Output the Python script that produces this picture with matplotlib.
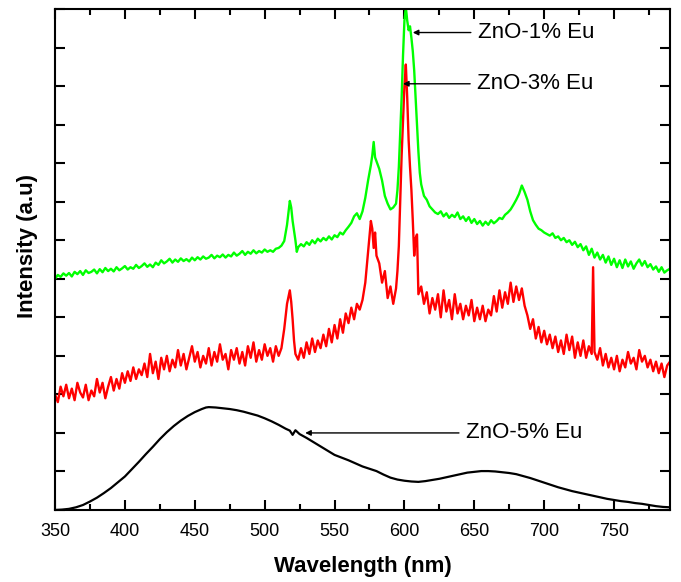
from matplotlib import pyplot as plt
from matplotlib.ticker import MultipleLocator, NullFormatter

plt.rcParams['font.family'] = ['Liberation Sans', 'DejaVu Sans']

# ZnO-1% Eu (green)
wl_1 = [350, 352, 354, 356, 358, 360, 362, 364, 366, 368,
        370, 372, 374, 376, 378, 380, 382, 384, 386, 388,
        390, 392, 394, 396, 398, 400, 402, 404, 406, 408,
        410, 412, 414, 416, 418, 420, 422, 424, 426, 428,
        430, 432, 434, 436, 438, 440, 442, 444, 446, 448,
        450, 452, 454, 456, 458, 460, 462, 464, 466, 468,
        470, 472, 474, 476, 478, 480, 482, 484, 486, 488,
        490, 492, 494, 496, 498, 500, 502, 504, 506, 508,
        510, 512, 514, 516, 518, 519, 520, 522, 523, 524,
        526, 528, 530, 532, 534, 536, 538, 540, 542, 544,
        546, 548, 550, 552, 554, 556, 558, 560, 562, 564,
        566, 568, 570, 572, 574, 576, 577, 578, 579, 580,
        582, 584, 586, 588, 590, 592, 594, 595, 596, 597,
        598, 599, 600, 601, 602, 603, 604, 605, 606, 607,
        608, 609, 610, 611, 612, 614, 616, 618, 620, 622,
        624, 626, 628, 630, 632, 634, 636, 638, 640, 642,
        644, 646, 648, 650, 652, 654, 656, 658, 660, 662,
        664, 666, 668, 670, 672, 674, 676, 678, 680, 682,
        684, 686, 688, 690, 692, 694, 696, 698, 700, 702,
        704, 706, 708, 710, 712, 714, 716, 718, 720, 722,
        724, 726, 728, 730, 732, 734, 736, 738, 740, 742,
        744, 746, 748, 750, 752, 754, 756, 758, 760, 762,
        764, 766, 768, 770, 772, 774, 776, 778, 780, 782,
        784, 786, 788, 790]
int_1 = [6.00, 6.10, 6.05, 6.14, 6.08, 6.15, 6.06, 6.18, 6.12, 6.20,
         6.10, 6.22, 6.15, 6.18, 6.24, 6.14, 6.25, 6.17, 6.28, 6.20,
         6.26, 6.19, 6.30, 6.22, 6.27, 6.33, 6.24, 6.30, 6.26, 6.36,
         6.28, 6.33, 6.40, 6.31, 6.37, 6.30, 6.42, 6.36, 6.48, 6.40,
         6.45, 6.52, 6.42, 6.50, 6.44, 6.53, 6.46, 6.51, 6.45, 6.55,
         6.48, 6.56, 6.50, 6.58, 6.52, 6.55, 6.62, 6.53, 6.60, 6.56,
         6.63, 6.55, 6.62, 6.58, 6.68, 6.60, 6.65, 6.72, 6.62, 6.70,
         6.65, 6.74, 6.66, 6.72, 6.68, 6.76, 6.70, 6.74, 6.70, 6.78,
         6.80, 6.86, 6.98, 7.40, 8.02, 7.85, 7.50, 7.00, 6.70, 6.82,
         6.90, 6.84, 6.95, 6.88, 7.00, 6.92, 7.04, 6.97, 7.06, 7.00,
         7.10, 7.02, 7.13, 7.08, 7.20, 7.15, 7.26, 7.35, 7.45, 7.62,
         7.70, 7.55, 7.75, 8.10, 8.55, 8.95, 9.20, 9.55, 9.15, 9.05,
         8.85, 8.55, 8.15, 7.95, 7.80, 7.85, 7.95, 8.30, 8.90, 9.80,
         10.70, 11.80, 12.70, 13.05, 12.70, 12.45, 12.55, 12.25, 11.90, 11.40,
         10.70, 9.95, 9.30, 8.75, 8.45, 8.15, 8.05, 7.88, 7.80, 7.72,
         7.68, 7.75, 7.62, 7.70, 7.58, 7.66, 7.60, 7.72, 7.55, 7.62,
         7.50, 7.60, 7.45, 7.55, 7.42, 7.50, 7.38, 7.48, 7.40, 7.52,
         7.44, 7.50, 7.58, 7.55, 7.66, 7.72, 7.80, 7.92, 8.05, 8.20,
         8.42, 8.25, 8.05, 7.75, 7.52, 7.40, 7.30, 7.26, 7.20, 7.16,
         7.12, 7.18, 7.06, 7.10, 7.00, 7.06, 6.95, 7.00, 6.88, 6.96,
         6.82, 6.90, 6.74, 6.84, 6.62, 6.78, 6.55, 6.68, 6.50, 6.62,
         6.42, 6.58, 6.36, 6.52, 6.30, 6.48, 6.28, 6.50, 6.32, 6.45,
         6.26, 6.40, 6.50, 6.34, 6.46, 6.30, 6.38, 6.24, 6.32, 6.18,
         6.30, 6.16, 6.22, 6.26]

# ZnO-3% Eu (red)
wl_3 = [350, 352, 354, 356, 358, 360, 362, 364, 366, 368,
        370, 372, 374, 376, 378, 380, 382, 384, 386, 388,
        390, 392, 394, 396, 398, 400, 402, 404, 406, 408,
        410, 412, 414, 416, 418, 420, 422, 424, 426, 428,
        430, 432, 434, 436, 438, 440, 442, 444, 446, 448,
        450, 452, 454, 456, 458, 460, 462, 464, 466, 468,
        470, 472, 474, 476, 478, 480, 482, 484, 486, 488,
        490, 492, 494, 496, 498, 500, 502, 504, 506, 508,
        510, 512, 514, 516, 518, 519, 520, 521, 522, 524,
        526, 528, 530, 532, 534, 536, 538, 540, 542, 544,
        546, 548, 550, 552, 554, 556, 558, 560, 562, 564,
        566, 568, 570, 572, 574, 575, 576, 577, 578, 579,
        580, 582, 584, 586, 588, 590, 592, 594, 595, 596,
        597, 598, 599, 600, 601, 602, 603, 604, 605, 606,
        607, 608, 609, 610, 612, 614, 616, 618, 620, 622,
        624, 626, 628, 630, 632, 634, 636, 638, 640, 642,
        644, 646, 648, 650, 652, 654, 656, 658, 660, 662,
        664, 666, 668, 670, 672, 674, 676, 678, 680, 682,
        684, 686, 688, 690, 692, 694, 696, 698, 700, 702,
        704, 706, 708, 710, 712, 714, 716, 718, 720, 722,
        724, 726, 728, 730, 732, 734, 735, 736, 738, 740,
        742, 744, 746, 748, 750, 752, 754, 756, 758, 760,
        762, 764, 766, 768, 770, 772, 774, 776, 778, 780,
        782, 784, 786, 788, 790]
int_3 = [3.00, 2.80, 3.20, 2.95, 3.25, 2.90, 3.15, 2.85, 3.30, 3.05,
         2.92, 3.25, 2.85, 3.10, 2.95, 3.40, 3.05, 3.30, 2.90, 3.20,
         3.45, 3.10, 3.40, 3.15, 3.55, 3.30, 3.60, 3.35, 3.70, 3.40,
         3.65, 3.50, 3.80, 3.45, 4.05, 3.55, 3.85, 3.40, 3.95, 3.65,
         4.00, 3.60, 3.90, 3.70, 4.15, 3.75, 4.05, 3.65, 3.95, 4.25,
         3.85, 4.10, 3.70, 4.00, 3.80, 4.20, 3.75, 4.10, 3.85, 4.30,
         3.90, 4.05, 3.65, 4.15, 3.90, 4.20, 3.80, 4.10, 3.75, 4.25,
         3.95, 4.35, 3.85, 4.15, 3.90, 4.30, 4.00, 4.20, 3.85, 4.25,
         4.00, 4.20, 4.70, 5.35, 5.70, 5.40, 4.95, 4.40, 4.05, 3.90,
         4.20, 3.95, 4.35, 4.05, 4.45, 4.10, 4.40, 4.20, 4.55, 4.25,
         4.70, 4.35, 4.80, 4.45, 4.95, 4.60, 5.10, 4.85, 5.25, 4.95,
         5.35, 5.20, 5.45, 5.90, 6.70, 7.10, 7.50, 7.30, 6.80, 7.20,
         6.60, 6.40, 5.90, 6.20, 5.50, 5.80, 5.35, 5.75, 6.20, 6.85,
         8.00, 9.20, 10.10, 11.00, 11.56, 10.70, 9.60, 8.90, 8.30, 7.50,
         6.60, 7.05, 7.15, 5.60, 5.80, 5.35, 5.65, 5.10, 5.50, 5.20,
         5.60, 5.00, 5.70, 5.15, 5.45, 4.95, 5.60, 5.10, 5.35, 4.95,
         5.30, 5.05, 5.45, 4.90, 5.25, 4.95, 5.30, 4.90, 5.20, 5.05,
         5.55, 5.15, 5.70, 5.25, 5.65, 5.35, 5.90, 5.40, 5.80, 5.45,
         5.75, 5.30, 5.05, 4.70, 4.95, 4.45, 4.75, 4.35, 4.65, 4.30,
         4.55, 4.20, 4.50, 4.10, 4.40, 4.05, 4.55, 4.15, 4.50, 3.95,
         4.35, 4.00, 4.40, 3.95, 4.25, 4.05, 6.30, 4.10, 3.90, 4.20,
         3.75, 4.05, 3.70, 3.95, 3.65, 4.00, 3.60, 3.90, 3.70, 4.10,
         3.80, 3.95, 3.65, 4.15, 3.85, 4.00, 3.70, 3.90, 3.60, 3.85,
         3.55, 3.80, 3.45, 3.75, 3.85]

# ZnO-5% Eu (black)
wl_5 = [350, 355, 360, 365, 370, 375, 380, 385, 390, 395,
        400, 405, 410, 415, 420, 425, 430, 435, 440, 445,
        450, 455, 458, 460, 465, 470, 475, 480, 485, 490,
        495, 500, 505, 510, 515, 518, 520, 522, 525, 530,
        535, 540, 545, 550, 555, 560, 565, 570, 575, 580,
        585, 590, 595, 600, 605, 610, 615, 620, 625, 630,
        635, 640, 645, 650, 655, 660, 665, 670, 675, 680,
        685, 690, 695, 700, 705, 710, 715, 720, 725, 730,
        735, 740, 745, 750, 755, 760, 765, 770, 775, 780,
        785, 790]
int_5 = [0.00, 0.01, 0.03, 0.07, 0.13, 0.22, 0.32, 0.44, 0.57, 0.72,
         0.87, 1.06, 1.25, 1.45, 1.64, 1.84, 2.02, 2.18, 2.32, 2.44,
         2.54, 2.62, 2.66, 2.67, 2.66, 2.64, 2.62, 2.59, 2.55, 2.50,
         2.45, 2.38, 2.30, 2.21, 2.11, 2.06, 1.95, 2.07, 1.97, 1.87,
         1.76, 1.65, 1.54, 1.43, 1.36, 1.29, 1.21, 1.13, 1.07, 1.01,
         0.92, 0.84, 0.79, 0.76, 0.74, 0.73, 0.75, 0.78, 0.81, 0.85,
         0.89, 0.93, 0.97, 0.99, 1.01, 1.01, 1.00, 0.98, 0.96, 0.93,
         0.88, 0.83, 0.77, 0.71, 0.65, 0.59, 0.54, 0.49, 0.45, 0.41,
         0.37, 0.33, 0.29, 0.26, 0.23, 0.21, 0.18, 0.16, 0.13, 0.10,
         0.08, 0.07]

labels = ['ZnO-1% Eu', 'ZnO-3% Eu', 'ZnO-5% Eu']

fig = plt.figure(figsize=(6.81, 5.82), dpi=100)
ax = fig.add_axes([0.0808, 0.1237, 0.903, 0.8608])

ax.plot(wl_5, int_5, color='black', lw=1.6)
ax.plot(wl_3, int_3, color='#ff0000', lw=1.7)
ax.plot(wl_1, int_1, color='#00ff00', lw=1.7)

ax.set_xlim(350, 790)
ax.set_ylim(0, 13)

# labels with arrows
arrow = dict(arrowstyle='-|>', color='black', lw=1.0, mutation_scale=8, shrinkA=3, shrinkB=0)
ax.annotate(labels[0], xy=(606, 12.39), xytext=(652.5, 12.39), fontsize=16,
            ha='left', va='center', arrowprops=arrow)
ax.annotate(labels[1], xy=(599, 11.06), xytext=(652, 11.06), fontsize=16,
            ha='left', va='center', arrowprops=arrow)
ax.annotate(labels[2], xy=(529, 2.0), xytext=(644, 2.0), fontsize=16,
            ha='left', va='center', arrowprops=arrow)

# ticks
ax.xaxis.set_major_locator(MultipleLocator(50))
ax.xaxis.set_minor_locator(MultipleLocator(25))
ax.yaxis.set_major_locator(MultipleLocator(1))
ax.yaxis.set_major_formatter(NullFormatter())
ax.tick_params(which='both', direction='in', top=True, right=True, width=1.5)
ax.tick_params(which='major', length=7, labelsize=13, pad=9)
ax.tick_params(which='minor', length=4)
for s in ax.spines.values():
    s.set_linewidth(1.5)

ax.set_xlabel('Wavelength (nm)', fontsize=16, fontweight='bold', labelpad=12)
ax.set_ylabel('Intensity (a.u)', fontsize=16, fontweight='bold')
ax.yaxis.set_label_coords(-0.028, 0.527)

plt.savefig('out.png', dpi=100)
